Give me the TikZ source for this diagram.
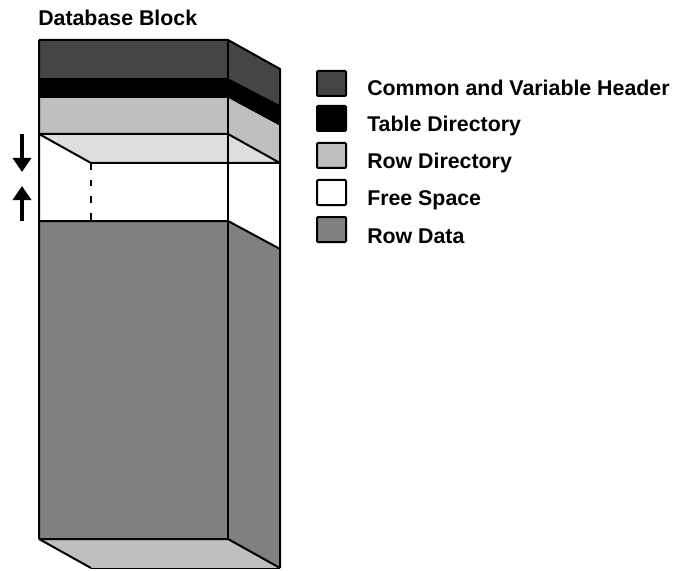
\documentclass[tikz,border=0pt]{standalone}
\usepackage{fontspec}
\setmainfont{Liberation Sans}
\usetikzlibrary{arrows.meta}
\definecolor{hdr}{gray}{0.27}
\definecolor{rowdir}{gray}{0.75}
\definecolor{ceil}{gray}{0.87}
\definecolor{rowdata}{gray}{0.5}
\tikzset{
  x=0.75pt, y=-0.75pt,
  edge/.style={draw=black, line width=1.5pt, line join=bevel},
  swatch/.style={draw=black, line width=1.5pt, rounded corners=0.8pt, minimum width=21.75pt, minimum height=18.75pt, inner sep=0pt, outer sep=0pt, anchor=north west},
  lbl/.style={anchor=base west, inner sep=0pt, font=\bfseries\fontsize{16}{18}\selectfont},
  dir/.style={line width=3.5pt, -{Triangle[length=10.5pt,width=13.5pt]}}
}
\begin{document}
\begin{tikzpicture}
\useasboundingbox (0,0) rectangle (673,570);
% front bands
\fill[hdr] (39,40) rectangle (228,78);
\fill[black] (39,78) rectangle (228,98);
\fill[rowdir] (39,98) rectangle (228,134);
\fill[rowdata] (39,221) rectangle (228,539);
% side bands
\fill[hdr] (228,40) -- (280,69) -- (280,105) -- (228,78) -- cycle;
\fill[black] (228,78) -- (280,105) -- (280,126) -- (228,98) -- cycle;
\fill[rowdir] (228,98) -- (280,126) -- (280,163) -- (228,134) -- cycle;
\fill[rowdata] (228,221) -- (280,249) -- (280,568) -- (228,539) -- cycle;
% ceiling of the free space and floor
\fill[ceil] (39,134) -- (228,134) -- (280,163) -- (91,163) -- cycle;
\fill[rowdir] (39,539) -- (228,539) -- (280,568) -- (91,568) -- cycle;
% edges
\draw[edge] (39,40) -- (228,40) -- (280,69) -- (280,568) (39,40) -- (39,539);
\draw[edge] (228,40) -- (228,539);
\draw[edge] (39,134) -- (228,134) -- (280,163) -- (91,163) -- cycle;
\draw[edge] (39,221) -- (228,221) -- (280,249);
\draw[edge] (39,539) -- (228,539) -- (280,568);
\draw[edge] (39,539) -- (91,568);
\draw[line width=0.6pt, draw=black] (91,568) -- (280,568);
\draw[edge, line width=1.8pt, dash pattern=on 5pt off 7.5pt] (91,163) -- (91,221);
% arrows
\coordinate (d1) at (22,134);
\coordinate (d2) at (22,172);
\coordinate (u1) at (22,221);
\coordinate (u2) at (22,186);
\draw[dir] (d1) -- (d2);
\draw[dir] (u1) -- (u2);
% title
\node[lbl] (title) at (38,26) {Database Block};
% legend
\node[swatch, fill=hdr] (s1) at (317,71) {};
\node[swatch, fill=black] (s2) at (317,106) {};
\node[swatch, fill=rowdir] (s3) at (317,143) {};
\node[swatch, fill=white] (s4) at (317,180) {};
\node[swatch, fill=rowdata] (s5) at (317,217) {};
\node[lbl] (t1) at (367,96) {Common and Variable Header};
\node[lbl] (t2) at (367,132) {Table Directory};
\node[lbl] (t3) at (367,169) {Row Directory};
\node[lbl] (t4) at (367,205) {Free Space};
\node[lbl] (t5) at (367,243) {Row Data};
\end{tikzpicture}
\end{document}
